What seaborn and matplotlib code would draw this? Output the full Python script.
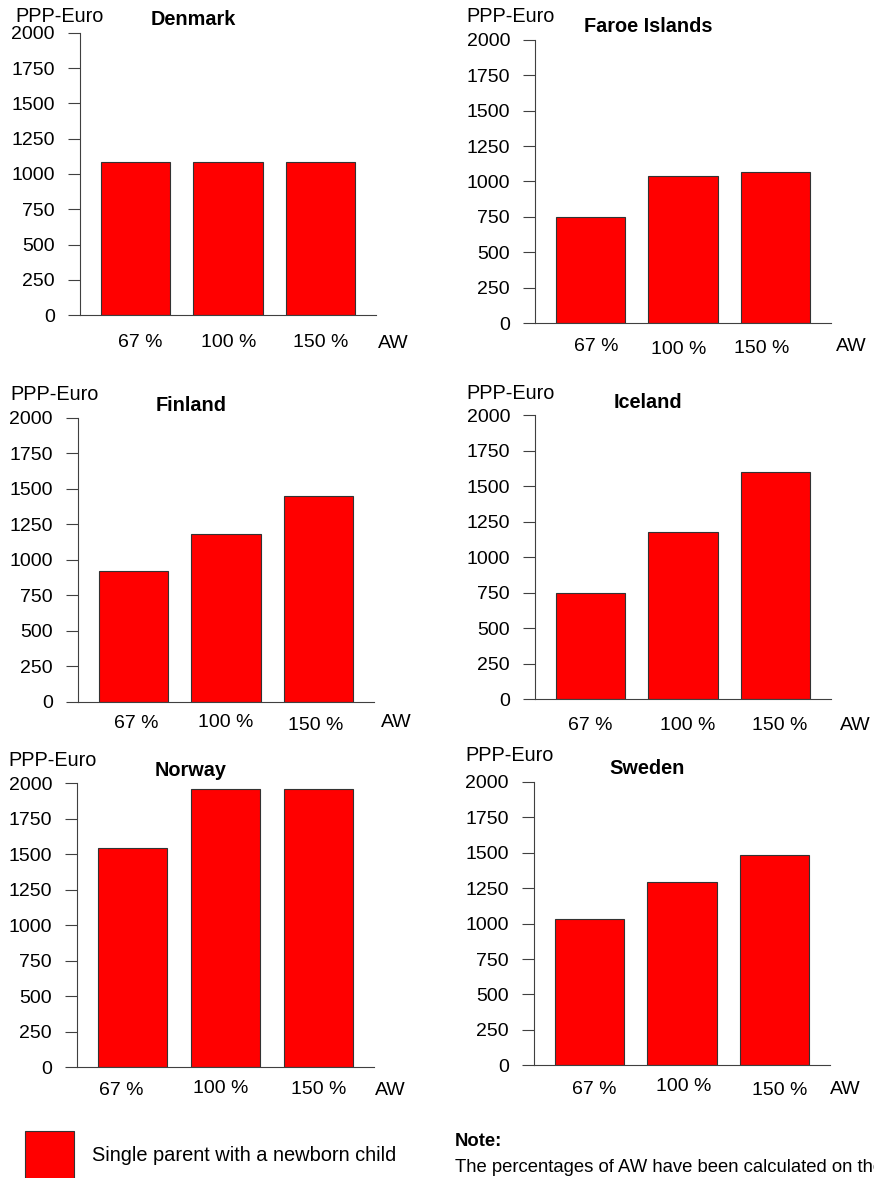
import matplotlib
matplotlib.use("Agg")
import matplotlib.pyplot as plt
import matplotlib.transforms as mtransforms
from matplotlib.patches import Patch
import pandas as pd
import seaborn as sns

# ---- data -------------------------------------------------------------
levels = ["67 %", "100 %", "150 %"]
countries = ["Denmark", "Faroe Islands", "Finland", "Iceland", "Norway", "Sweden"]
denmark = [1087, 1087, 1087]
faroe_islands = [751, 1039, 1065]
finland = [920, 1183, 1451]
iceland = [751, 1176, 1599]
norway = [1545, 1962, 1962]
sweden = [1033, 1296, 1487]
y_ticks = [0, 250, 500, 750, 1000, 1250, 1500, 1750, 2000]
unit_label = "PPP-Euro"
x_unit = "AW"
legend_label = "Single parent with a newborn child"
note_title = "Note:"
note_text = "The percentages of AW have been calculated on the basis of the average wage"

series = [denmark, faroe_islands, finland, iceland, norway, sweden]

# ---- layout (pixel geometry of each panel) ----------------------------
W, H = 874, 1178
panels = [
    dict(box=(80, 32.7, 315.3, 376), title=(193.5, 19.5), unit=(15, 17),
         aw=(393.5, 343.3), offs=[(5, 27), (1, 27), (0, 27)]),
    dict(box=(535, 40, 323, 831), title=(648.7, 26), unit=(466, 16.7),
         aw=(851, 346.7), offs=[(6, 23.7), (-4, 26.3), (-14, 25.3)]),
    dict(box=(78, 417.7, 701.7, 374), title=(191.5, 405), unit=(10, 395),
         aw=(396, 722.3), offs=[(2.5, 21.6), (0, 21), (-2.5, 23.3)]),
    dict(box=(535, 415.3, 699.3, 831), title=(648, 402), unit=(466, 394),
         aw=(855, 725), offs=[(0, 26.7), (5, 25.7), (4, 26.7)]),
    dict(box=(77, 783.3, 1067.3, 374), title=(191, 770.7), unit=(8, 760.7),
         aw=(390, 1090.7), offs=[(-11, 23), (-5, 21.3), (0, 22)]),
    dict(box=(534, 782, 1065.3, 830), title=(647, 768.3), unit=(465, 755.7),
         aw=(845, 1089), offs=[(4.5, 23.7), (1.5, 21.4), (5, 25.4)]),
]

BAR_RED = "#FF0000"
EDGE = "#333333"
AXIS = "#404040"

sns.set_theme(style="ticks")
plt.rcParams["font.family"] = ["Liberation Sans", "DejaVu Sans"]
plt.rcParams["text.color"] = "black"
plt.rcParams["xtick.color"] = AXIS
plt.rcParams["ytick.color"] = AXIS
plt.rcParams["xtick.labelcolor"] = "black"
plt.rcParams["ytick.labelcolor"] = "black"

fig = plt.figure(figsize=(W / 100, H / 100), dpi=100)


def fx(x):
    return x / W


def fy(y):
    return 1 - y / H


for name, values, lay in zip(countries, series, panels):
    left, top, bottom, right = lay["box"]
    ax = fig.add_axes([fx(left), fy(bottom), (right - left) / W, (bottom - top) / H])
    df = pd.DataFrame({"level": levels, "value": values})
    sns.barplot(data=df, x="level", y="value", ax=ax, color=BAR_RED,
                saturation=1, width=0.75, edgecolor=EDGE, linewidth=0.8,
                errorbar=None)
    ax.set_xlim(-0.6, 2.6)
    ax.set_ylim(0, 2000)
    ax.set_yticks(y_ticks)
    ax.set_xlabel("")
    ax.set_ylabel("")
    for side in ("top", "right"):
        ax.spines[side].set_visible(False)
    for side in ("left", "bottom"):
        ax.spines[side].set_color(AXIS)
        ax.spines[side].set_linewidth(0.8)
    ax.tick_params(axis="y", length=8.6, width=0.8, pad=9.4, labelsize=14)
    ax.tick_params(axis="x", length=0, pad=0, labelsize=14)
    ax.set_xticks(range(len(levels)), levels)
    for lbl, (dx, dy) in zip(ax.get_xticklabels(), lay["offs"]):
        lbl.set_va("center")
        lbl.set_transform(lbl.get_transform() + mtransforms.ScaledTranslation(
            dx / 100, -dy / 100, fig.dpi_scale_trans))

    tx, ty = lay["title"]
    fig.text(fx(tx), fy(ty), name, ha="center", va="center",
             fontsize=14.3, fontweight="bold")
    ux, uy = lay["unit"]
    fig.text(fx(ux), fy(uy), unit_label, ha="left", va="center", fontsize=14.3)
    awx, awy = lay["aw"]
    fig.text(fx(awx), fy(awy), x_unit, ha="center", va="center", fontsize=14)

# legend: one large square swatch followed by its label
fig.legend(handles=[Patch(facecolor=BAR_RED, edgecolor=EDGE, linewidth=0.8)],
           labels=[legend_label], loc="upper left",
           bbox_to_anchor=(fx(25), fy(1131)), frameon=False, borderpad=0,
           borderaxespad=0, handlelength=2.45, handleheight=3.39,
           handletextpad=0.9, fontsize=14.4)

# note
fig.text(fx(455), fy(1142), note_title, ha="left", va="center",
         fontsize=13.3, fontweight="bold")
fig.text(fx(455), fy(1167), note_text, ha="left", va="center", fontsize=13.3)

fig.savefig("out.png", dpi=100)
